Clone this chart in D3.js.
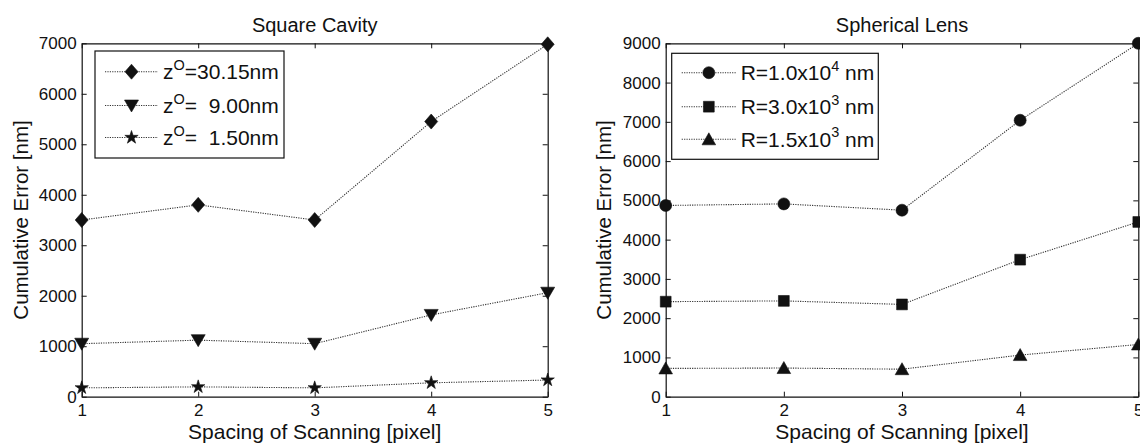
<!DOCTYPE html>
<html><head><meta charset="utf-8">
<script src="https://cdn.jsdelivr.net/npm/d3@7"></script>
<style>
body{margin:0;background:#fff}
svg{display:block}
text{font-family:"Liberation Sans",Arial,Helvetica,sans-serif;fill:#111}
</style>
</head><body><svg id="c" width="1140" height="446"></svg>
<script>
// ---- data ----
const xValues = [1, 2, 3, 4, 5];
const xTicks = [1, 2, 3, 4, 5];
const cavityYTicks = [0, 1000, 2000, 3000, 4000, 5000, 6000, 7000];
const lensYTicks = [0, 1000, 2000, 3000, 4000, 5000, 6000, 7000, 8000, 9000];

const cavityTitle = "Square Cavity";
const lensTitle = "Spherical Lens";
const xLabel = "Spacing of Scanning [pixel]";
const yLabel = "Cumulative Error [nm]";

const cavityZ3015 = [3500, 3800, 3500, 5450, 6980];
const cavityZ900 = [1050, 1120, 1050, 1620, 2060];
const cavityZ150 = [175, 195, 175, 275, 330];

const lensR1e4 = [4870, 4910, 4750, 7040, 9000];
const lensR3e3 = [2420, 2440, 2350, 3490, 4450];
const lensR15e3 = [720, 730, 700, 1060, 1330];

// legend label parts: [before superscript, superscript, after]
const cavityLegend = [["z", "O", "=30.15nm"], ["z", "O", "=  9.00nm"], ["z", "O", "=  1.50nm"]];
const lensLegend = [["R=1.0x10", "4", " nm"], ["R=3.0x10", "3", " nm"], ["R=1.5x10", "3", " nm"]];

// ---- markers ----
const markerPaths = {
  diamond: "M0,-7.5L6.5,0L0,7.5L-6.5,0Z",
  tridown: "M-7,-5.5L7,-5.5L0,6.5Z",
  triup: "M-6.8,5.5L6.8,5.5L0,-6.5Z",
  star: d3.symbol(d3.symbolStar, 55)(),
  circle: d3.symbol(d3.symbolCircle, Math.PI * 6 * 6)(),
  square: "M-5.4,-5.4L5.4,-5.4L5.4,5.4L-5.4,5.4Z"
};

const svg = d3.select("#c");

function panel(cfg) {
  const {x0, x1, y0, y1, yTicks, yMax, series, legend, legendBox, title, yLabelX} = cfg;
  const x = d3.scaleLinear().domain([1, 5]).range([x0, x1]);
  const y = d3.scaleLinear().domain([0, yMax]).range([y1, y0]);
  const g = svg.append("g");
  const tl = 5;

  const bottom = g.append("g").attr("transform", `translate(0,${y1})`)
    .call(d3.axisBottom(x).tickValues(xTicks).tickSizeInner(-tl).tickSizeOuter(0).tickPadding(7).tickFormat(d3.format("d")));
  const top = g.append("g").attr("transform", `translate(0,${y0})`)
    .call(d3.axisTop(x).tickValues(xTicks).tickSizeInner(-tl).tickSizeOuter(0).tickFormat(""));
  const left = g.append("g").attr("transform", `translate(${x0},0)`)
    .call(d3.axisLeft(y).tickValues(yTicks).tickSizeInner(-tl).tickSizeOuter(0).tickPadding(5).tickFormat(d3.format("d")));
  const right = g.append("g").attr("transform", `translate(${x1},0)`)
    .call(d3.axisRight(y).tickValues(yTicks).tickSizeInner(-tl).tickSizeOuter(0).tickFormat(""));
  [bottom, top, left, right].forEach(a => {
    a.select(".domain").attr("stroke", "#111").attr("stroke-width", 1.2);
    a.selectAll(".tick line").attr("stroke", "#111").attr("stroke-width", 1);
    a.selectAll(".tick text").attr("font-size", 17).attr("fill", "#111")
      .style("font-family", '"Liberation Sans",Arial,sans-serif');
  });
  bottom.selectAll(".tick text").attr("dy", "0.71em");

  g.append("text").attr("x", (x0 + x1) / 2).attr("y", 32).attr("text-anchor", "middle")
    .attr("font-size", 20).text(title);
  g.append("text").attr("x", (x0 + x1) / 2).attr("y", 438.5).attr("text-anchor", "middle")
    .attr("font-size", 21).text(xLabel);
  g.append("text").attr("transform", `translate(${yLabelX},${(y0 + y1) / 2}) rotate(-90)`)
    .attr("text-anchor", "middle").attr("font-size", 20.5).text(yLabel);

  const line = d3.line().x((d, i) => x(xValues[i])).y(d => y(d));
  series.forEach(s => {
    g.append("path").attr("d", line(s.values)).attr("fill", "none")
      .attr("stroke", "#333").attr("stroke-width", 1.1).attr("stroke-dasharray", "1.2,1.2");
    g.selectAll(null).data(s.values).enter().append("path")
      .attr("d", markerPaths[s.marker])
      .attr("transform", (d, i) => `translate(${x(xValues[i])},${y(d)})`)
      .attr("fill", "#111").attr("stroke", "#111").attr("stroke-width", 0.6);
  });

  const lb = legendBox;
  g.append("rect").attr("x", lb.x).attr("y", lb.y).attr("width", lb.w).attr("height", lb.h)
    .attr("fill", "#fff").attr("stroke", "#111").attr("stroke-width", 1.2);
  series.forEach((s, i) => {
    const ry = lb.rows[i];
    g.append("line").attr("x1", lb.lx0).attr("x2", lb.lx1).attr("y1", ry).attr("y2", ry)
      .attr("stroke", "#333").attr("stroke-width", 1.1).attr("stroke-dasharray", "1.2,1.2");
    g.append("path").attr("d", markerPaths[s.marker])
      .attr("transform", `translate(${(lb.lx0 + lb.lx1) / 2},${ry})`)
      .attr("fill", "#111").attr("stroke", "#111").attr("stroke-width", 0.6);
    const t = g.append("text").attr("x", lb.tx).attr("y", ry + 7.5).attr("font-size", 21)
      .attr("xml:space", "preserve").style("white-space", "pre");
    const parts = legend[i];
    t.append("tspan").text(parts[0]);
    t.append("tspan").attr("dy", -9.5).attr("font-size", 14.5).text(parts[1]);
    t.append("tspan").attr("dy", 9.5).text(parts[2]);
  });
}

panel({
  x0: 81.7, x1: 547.7, y0: 43.3, y1: 396.7, yMax: 7000, yTicks: cavityYTicks,
  title: cavityTitle, yLabelX: 28,
  series: [
    {values: cavityZ3015, marker: "diamond"},
    {values: cavityZ900, marker: "tridown"},
    {values: cavityZ150, marker: "star"}
  ],
  legend: cavityLegend,
  legendBox: {x: 95, y: 51, w: 189, h: 107, rows: [71.7, 105.5, 137.5], lx0: 105, lx1: 158, tx: 163}
});

panel({
  x0: 665.7, x1: 1138.3, y0: 43.3, y1: 396.7, yMax: 9000, yTicks: lensYTicks,
  title: lensTitle, yLabelX: 611,
  series: [
    {values: lensR1e4, marker: "circle"},
    {values: lensR3e3, marker: "square"},
    {values: lensR15e3, marker: "triup"}
  ],
  legend: lensLegend,
  legendBox: {x: 671.7, y: 53.3, w: 206.6, h: 106, rows: [72.7, 106.7, 139.3], lx0: 681.7, lx1: 736, tx: 740.7}
});
</script>
</body></html>
